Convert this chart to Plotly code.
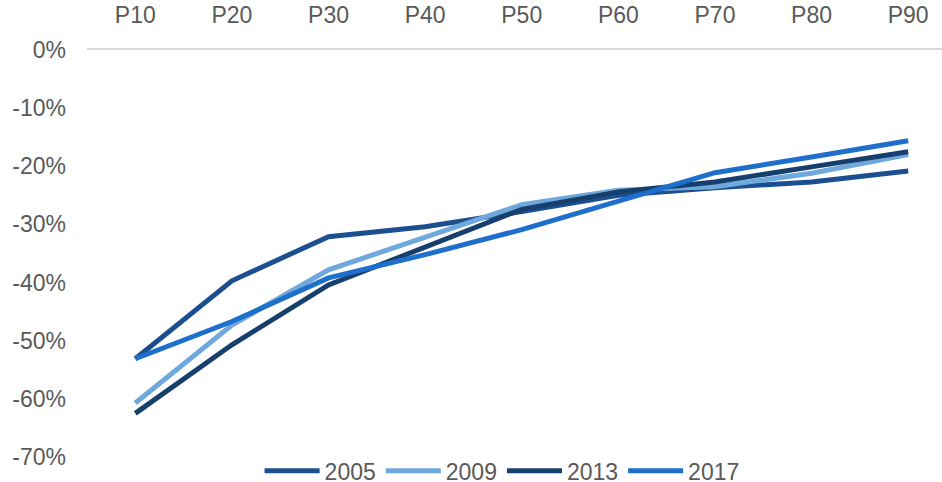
import plotly.graph_objects as go

percentiles = ["P10", "P20", "P30", "P40", "P50", "P60", "P70", "P80", "P90"]

y2005 = [-53.1, -39.7, -32.1, -30.4, -27.8, -25.0, -23.7, -22.7, -20.8]
y2009 = [-60.7, -47.3, -37.8, -32.1, -26.6, -24.1, -23.5, -21.2, -18.0]
y2013 = [-62.5, -50.7, -40.4, -34.0, -27.4, -24.4, -22.7, -20.1, -17.5]
y2017 = [-53.1, -46.7, -39.2, -35.2, -30.9, -26.1, -21.1, -18.4, -15.6]

y_ticks = [0, -10, -20, -30, -40, -50, -60, -70]
y_tick_labels = ["0%", "-10%", "-20%", "-30%", "-40%", "-50%", "-60%", "-70%"]

series = [
    ("2005", y2005, "#1b4f8f"),
    ("2009", y2009, "#6fa8dc"),
    ("2013", y2013, "#173f6d"),
    ("2017", y2017, "#1e6fcc"),
]

FONT = "Liberation Sans, Arial, sans-serif"
TEXT = "#595959"
SIZE = 23

fig = go.Figure()
for name, vals, color in series:
    fig.add_trace(go.Scatter(
        x=percentiles,
        y=vals,
        name=name,
        mode="lines",
        line=dict(color=color, width=5),
    ))

fig.update_layout(
    width=942,
    height=482,
    margin=dict(l=87, r=0, t=50, b=25, autoexpand=False),
    paper_bgcolor="white",
    plot_bgcolor="white",
    font=dict(family=FONT, size=SIZE, color=TEXT),
    showlegend=True,
    legend=dict(
        orientation="h",
        xref="container",
        x=0.533,
        xanchor="center",
        yref="container",
        y=0.023,
        yanchor="middle",
        font=dict(family=FONT, size=SIZE, color=TEXT),
        itemwidth=55,
        tracegroupgap=0,
        bgcolor="rgba(0,0,0,0)",
    ),
    xaxis=dict(
        type="category",
        side="top",
        range=[-0.5, 8.35],
        showline=True,
        linecolor="#d9d9d9",
        linewidth=1.5,
        showgrid=False,
        zeroline=False,
        ticks="",
        ticklabelstandoff=16,
        tickfont=dict(family=FONT, size=SIZE, color=TEXT),
        fixedrange=True,
    ),
    yaxis=dict(
        range=[-70, 0],
        tickmode="array",
        tickvals=y_ticks,
        ticktext=y_tick_labels,
        showgrid=False,
        zeroline=False,
        showline=False,
        ticks="",
        ticklabelstandoff=20,
        tickfont=dict(family=FONT, size=SIZE, color=TEXT),
        fixedrange=True,
    ),
)

fig.write_html("out.html")
